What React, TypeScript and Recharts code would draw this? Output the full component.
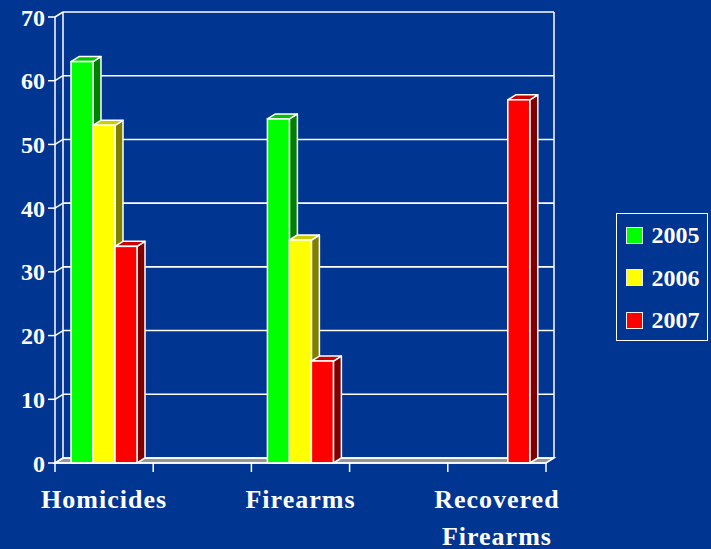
import React from 'react';
import { BarChart, Bar, XAxis, YAxis, CartesianGrid, Legend } from 'recharts';

const categories = ['Homicides', ' ', 'Firearms', '  ', 'Recovered Firearms'];
const series2005 = [63, null, 54, null, null];
const series2006 = [53, null, 35, null, null];
const series2007 = [34, null, 16, null, 57];
const yTicks = [0, 10, 20, 30, 40, 50, 60, 70];
const seriesNames = ['2005', '2006', '2007'];
const seriesKeys = ['y2005', 'y2006', 'y2007'];
const seriesFront = ['#00FF00', '#FFFF00', '#FF0000'];
const seriesTop = ['#00C400', '#CCCC00', '#CC0000'];
const seriesSide = ['#008000', '#808000', '#800000'];

const data = categories.map((name, i) => ({
  name,
  y2005: series2005[i],
  y2006: series2006[i],
  y2007: series2007[i],
}));

const DX = 8;
const DY = -5;
const BG = '#003592';
const FONT = "'Liberation Serif', 'Times New Roman', serif";

const gridLine = (p: any) => {
  const { x1, x2, y1, index, y, height } = p;
  const els: any[] = [];
  if (index === 0 && typeof y === 'number' && typeof height === 'number') {
    const top = y;
    const bottom = y + height;
    els.push(
      <polygon
        key="floor"
        points={`${x1},${bottom} ${x2},${bottom} ${x2 + DX},${bottom + DY} ${x1 + DX},${bottom + DY}`}
        fill="#969696"
        stroke="#fff"
        strokeWidth={1.5}
      />
    );
    els.push(
      <line key="lw" x1={x1 + DX} y1={top + DY} x2={x1 + DX} y2={bottom + DY} stroke="#fff" strokeWidth={1.5} />
    );
    els.push(
      <line key="rw" x1={x2 + DX} y1={top + DY} x2={x2 + DX} y2={bottom + DY} stroke="#fff" strokeWidth={1.5} />
    );
  }
  els.push(
    <line key="b" x1={x1 + DX} y1={y1 + DY} x2={x2 + DX} y2={y1 + DY} stroke="#fff" strokeWidth={1.6} />
  );
  els.push(<line key="d" x1={x1} y1={y1} x2={x1 + DX} y2={y1 + DY} stroke="#fff" strokeWidth={1.5} />);
  return <g key={p.key}>{els}</g>;
};

const make3D = (i: number) => (p: any) => {
  const { x, y, width, height } = p;
  if (height == null || !(height > 0)) return <g />;
  const r = x + width;
  const b = y + height;
  return (
    <g>
      <polygon
        points={`${r},${b} ${r + DX},${b + DY} ${r + DX},${y + DY} ${r},${y}`}
        fill={seriesSide[i]}
        stroke="#fff"
        strokeWidth={1.5}
        strokeLinejoin="round"
      />
      <polygon
        points={`${x},${y} ${x + DX},${y + DY} ${r + DX},${y + DY} ${r},${y}`}
        fill={seriesTop[i]}
        stroke="#fff"
        strokeWidth={1.5}
        strokeLinejoin="round"
      />
      <rect x={x} y={y} width={width} height={height} fill={seriesFront[i]} stroke="#fff" strokeWidth={1.5} />
    </g>
  );
};

const XTick = (p: any) => {
  const { x, y, payload, index, visibleTicksCount } = p;
  const off = payload && typeof payload.offset === 'number' && payload.offset > 0 ? payload.offset : 49;
  const words = String(payload?.value ?? '').trim().split(' ').filter((w) => w.length);
  const isLast = index === (visibleTicksCount ?? categories.length) - 1;
  return (
    <g>
      <line x1={x - off} y1={y} x2={x - off} y2={y + 9} stroke="#fff" strokeWidth={1.5} />
      {isLast && <line x1={x + off} y1={y} x2={x + off} y2={y + 9} stroke="#fff" strokeWidth={1.5} />}
      {words.map((w, k) => (
        <text
          key={k}
          x={x}
          y={y + 45 + k * 37}
          textAnchor="middle"
          fill="#fff"
          fontSize={26}
          fontWeight="bold"
          fontFamily={FONT}
          letterSpacing={1}
        >
          {w}
        </text>
      ))}
    </g>
  );
};

const renderLegend = (props: any) => {
  const payload = props.payload || [];
  return (
    <div
      style={{
        boxSizing: 'border-box',
        width: 92,
        height: 128,
        border: '1.5px solid #fff',
        background: BG,
      }}
    >
      {payload.map((e: any, i: number) => (
        <div key={i} style={{ display: 'flex', alignItems: 'center', height: 42.5, paddingLeft: 8.5 }}>
          <span
            style={{
              display: 'inline-block',
              width: 17,
              height: 17,
              background: e.color,
              border: '1.5px solid #eee',
              boxSizing: 'border-box',
              marginRight: 9,
            }}
          />
          <span style={{ color: '#fff', fontFamily: FONT, fontWeight: 'bold', fontSize: 24, lineHeight: '24px' }}>
            {e.value}
          </span>
        </div>
      ))}
    </div>
  );
};

export default function App() {
  return (
    <div
      style={{
        position: 'absolute',
        left: 0,
        top: 0,
        width: 711,
        height: 549,
        background: BG,
        overflow: 'hidden',
      }}
    >
      <BarChart
        width={711}
        height={549}
        data={data}
        margin={{ top: 17, right: 165, bottom: 0, left: 0 }}
        barCategoryGap={16}
        barGap={0}
      >
        <CartesianGrid vertical={false} horizontal={gridLine} stroke="#fff" />
        <XAxis
          dataKey="name"
          height={86}
          interval={0}
          tickLine={false}
          tickSize={0}
          tickMargin={0}
          axisLine={{ stroke: '#fff', strokeWidth: 1.5 }}
          tick={<XTick />}
        />
        <YAxis
          width={55}
          domain={[0, 70]}
          ticks={yTicks}
          interval={0}
          tickSize={7}
          tickMargin={3}
          axisLine={{ stroke: '#fff', strokeWidth: 1.5 }}
          tickLine={{ stroke: '#fff', strokeWidth: 1.5 }}
          tick={{ fill: '#fff', fontSize: 24, fontWeight: 'bold', fontFamily: FONT }}
        />
        <Legend
          layout="vertical"
          align="center"
          verticalAlign="middle"
          wrapperStyle={{ left: 616, top: 213, width: 92, height: 128 }}
          content={renderLegend}
        />
        {seriesKeys.map((k, i) => (
          <Bar
            key={k}
            dataKey={k}
            name={seriesNames[i]}
            fill={seriesFront[i]}
            isAnimationActive={false}
            shape={make3D(i)}
          />
        ))}
      </BarChart>
    </div>
  );
}
